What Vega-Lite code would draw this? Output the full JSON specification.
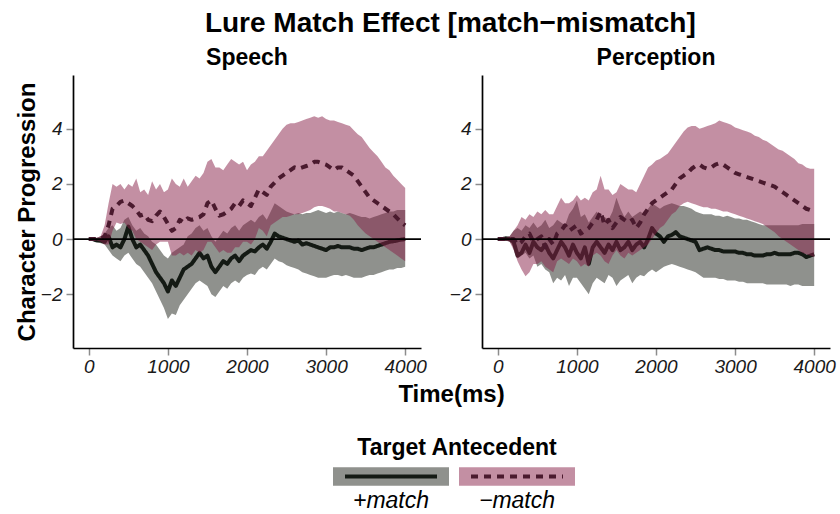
{
"$schema": "https://vega.github.io/schema/vega-lite/v6.json",
"padding": {"left": 15, "top": 10, "right": 5, "bottom": 5},
"background": "white",
"title": {"text": "Lure Match Effect [match−mismatch]", "fontSize": 28, "font": "Liberation Sans", "fontWeight": "bold", "color": "black", "anchor": "middle", "offset": 9, "dx": 25},
"datasets": {"d": [
{"p":"Speech","g":"+match","t":0,"m":0,"lo":-0.05,"hi":0.05},
{"p":"Speech","g":"+match","t":50,"m":0,"lo":-0.05,"hi":0.05},
{"p":"Speech","g":"+match","t":100,"m":-0.05,"lo":-0.1,"hi":0.05},
{"p":"Speech","g":"+match","t":150,"m":-0.05,"lo":-0.15,"hi":0.1},
{"p":"Speech","g":"+match","t":200,"m":-0.1,"lo":-0.2,"hi":0.2},
{"p":"Speech","g":"+match","t":250,"m":0.1,"lo":-0.4,"hi":0.4},
{"p":"Speech","g":"+match","t":300,"m":-0.3,"lo":-0.6,"hi":0.5},
{"p":"Speech","g":"+match","t":350,"m":-0.2,"lo":-0.7,"hi":0.3},
{"p":"Speech","g":"+match","t":400,"m":-0.3,"lo":-0.8,"hi":0.4},
{"p":"Speech","g":"+match","t":450,"m":0,"lo":-0.6,"hi":0.7},
{"p":"Speech","g":"+match","t":500,"m":0.45,"lo":-0.5,"hi":0.8},
{"p":"Speech","g":"+match","t":550,"m":0,"lo":-0.7,"hi":0.5},
{"p":"Speech","g":"+match","t":600,"m":-0.3,"lo":-0.9,"hi":0.3},
{"p":"Speech","g":"+match","t":650,"m":-0.2,"lo":-1.0,"hi":0.4},
{"p":"Speech","g":"+match","t":700,"m":-0.4,"lo":-1.2,"hi":0.2},
{"p":"Speech","g":"+match","t":750,"m":-0.6,"lo":-1.4,"hi":0.1},
{"p":"Speech","g":"+match","t":800,"m":-0.9,"lo":-1.6,"hi":-0.1},
{"p":"Speech","g":"+match","t":850,"m":-1.2,"lo":-1.9,"hi":-0.2},
{"p":"Speech","g":"+match","t":900,"m":-1.4,"lo":-2.2,"hi":-0.4},
{"p":"Speech","g":"+match","t":950,"m":-1.6,"lo":-2.5,"hi":-0.6},
{"p":"Speech","g":"+match","t":1000,"m":-1.9,"lo":-2.9,"hi":-0.7},
{"p":"Speech","g":"+match","t":1050,"m":-1.5,"lo":-2.7,"hi":-0.5},
{"p":"Speech","g":"+match","t":1100,"m":-1.7,"lo":-2.75,"hi":-0.4},
{"p":"Speech","g":"+match","t":1150,"m":-1.4,"lo":-2.4,"hi":-0.3},
{"p":"Speech","g":"+match","t":1200,"m":-1.1,"lo":-2.2,"hi":-0.2},
{"p":"Speech","g":"+match","t":1250,"m":-1.0,"lo":-2.0,"hi":0.1},
{"p":"Speech","g":"+match","t":1300,"m":-0.9,"lo":-1.8,"hi":0.2},
{"p":"Speech","g":"+match","t":1350,"m":-0.7,"lo":-1.6,"hi":0.4},
{"p":"Speech","g":"+match","t":1400,"m":-0.5,"lo":-1.5,"hi":0.5},
{"p":"Speech","g":"+match","t":1450,"m":-0.7,"lo":-1.6,"hi":0.3},
{"p":"Speech","g":"+match","t":1500,"m":-0.6,"lo":-1.7,"hi":0.4},
{"p":"Speech","g":"+match","t":1550,"m":-1.0,"lo":-2.0,"hi":0.1},
{"p":"Speech","g":"+match","t":1600,"m":-1.2,"lo":-2.1,"hi":-0.1},
{"p":"Speech","g":"+match","t":1650,"m":-1.0,"lo":-1.9,"hi":0.1},
{"p":"Speech","g":"+match","t":1700,"m":-0.8,"lo":-1.7,"hi":0.3},
{"p":"Speech","g":"+match","t":1750,"m":-0.9,"lo":-1.8,"hi":0.2},
{"p":"Speech","g":"+match","t":1800,"m":-0.7,"lo":-1.6,"hi":0.4},
{"p":"Speech","g":"+match","t":1850,"m":-0.6,"lo":-1.5,"hi":0.5},
{"p":"Speech","g":"+match","t":1900,"m":-0.8,"lo":-1.6,"hi":0.3},
{"p":"Speech","g":"+match","t":1950,"m":-0.6,"lo":-1.4,"hi":0.5},
{"p":"Speech","g":"+match","t":2000,"m":-0.5,"lo":-1.3,"hi":0.6},
{"p":"Speech","g":"+match","t":2050,"m":-0.4,"lo":-1.25,"hi":0.7},
{"p":"Speech","g":"+match","t":2100,"m":-0.45,"lo":-1.3,"hi":0.6},
{"p":"Speech","g":"+match","t":2150,"m":-0.3,"lo":-1.1,"hi":0.8},
{"p":"Speech","g":"+match","t":2200,"m":-0.2,"lo":-1.0,"hi":0.9},
{"p":"Speech","g":"+match","t":2250,"m":-0.35,"lo":-1.1,"hi":0.7},
{"p":"Speech","g":"+match","t":2300,"m":-0.1,"lo":-0.9,"hi":1.0},
{"p":"Speech","g":"+match","t":2350,"m":0.2,"lo":-0.7,"hi":1.3},
{"p":"Speech","g":"+match","t":2400,"m":0.1,"lo":-0.8,"hi":1.2},
{"p":"Speech","g":"+match","t":2450,"m":0.05,"lo":-0.85,"hi":1.1},
{"p":"Speech","g":"+match","t":2500,"m":0,"lo":-0.95,"hi":1.0},
{"p":"Speech","g":"+match","t":2550,"m":-0.05,"lo":-1.0,"hi":0.95},
{"p":"Speech","g":"+match","t":2600,"m":-0.1,"lo":-1.05,"hi":0.9},
{"p":"Speech","g":"+match","t":2650,"m":-0.05,"lo":-1.1,"hi":0.95},
{"p":"Speech","g":"+match","t":2700,"m":-0.2,"lo":-1.2,"hi":0.9},
{"p":"Speech","g":"+match","t":2750,"m":-0.15,"lo":-1.25,"hi":0.95},
{"p":"Speech","g":"+match","t":2800,"m":-0.2,"lo":-1.3,"hi":0.95},
{"p":"Speech","g":"+match","t":2850,"m":-0.25,"lo":-1.35,"hi":1.0},
{"p":"Speech","g":"+match","t":2900,"m":-0.3,"lo":-1.4,"hi":1.05},
{"p":"Speech","g":"+match","t":2950,"m":-0.35,"lo":-1.4,"hi":1.0},
{"p":"Speech","g":"+match","t":3000,"m":-0.4,"lo":-1.4,"hi":0.95},
{"p":"Speech","g":"+match","t":3050,"m":-0.3,"lo":-1.35,"hi":1.0},
{"p":"Speech","g":"+match","t":3100,"m":-0.3,"lo":-1.3,"hi":0.95},
{"p":"Speech","g":"+match","t":3150,"m":-0.25,"lo":-1.3,"hi":1.0},
{"p":"Speech","g":"+match","t":3200,"m":-0.3,"lo":-1.35,"hi":0.95},
{"p":"Speech","g":"+match","t":3250,"m":-0.3,"lo":-1.3,"hi":0.9},
{"p":"Speech","g":"+match","t":3300,"m":-0.3,"lo":-1.35,"hi":0.95},
{"p":"Speech","g":"+match","t":3350,"m":-0.35,"lo":-1.4,"hi":0.9},
{"p":"Speech","g":"+match","t":3400,"m":-0.35,"lo":-1.4,"hi":0.85},
{"p":"Speech","g":"+match","t":3450,"m":-0.4,"lo":-1.4,"hi":0.8},
{"p":"Speech","g":"+match","t":3500,"m":-0.35,"lo":-1.35,"hi":0.8},
{"p":"Speech","g":"+match","t":3550,"m":-0.3,"lo":-1.3,"hi":0.75},
{"p":"Speech","g":"+match","t":3600,"m":-0.3,"lo":-1.3,"hi":0.8},
{"p":"Speech","g":"+match","t":3650,"m":-0.25,"lo":-1.25,"hi":0.85},
{"p":"Speech","g":"+match","t":3700,"m":-0.2,"lo":-1.2,"hi":0.9},
{"p":"Speech","g":"+match","t":3750,"m":-0.15,"lo":-1.15,"hi":0.95},
{"p":"Speech","g":"+match","t":3800,"m":-0.1,"lo":-1.1,"hi":1.0},
{"p":"Speech","g":"+match","t":3850,"m":-0.08,"lo":-1.1,"hi":1.0},
{"p":"Speech","g":"+match","t":3900,"m":-0.05,"lo":-1.05,"hi":1.05},
{"p":"Speech","g":"+match","t":3950,"m":-0.02,"lo":-1.05,"hi":1.05},
{"p":"Speech","g":"+match","t":4000,"m":0,"lo":-1.0,"hi":1.05},
{"p":"Speech","g":"−match","t":0,"m":0,"lo":0,"hi":0},
{"p":"Speech","g":"−match","t":50,"m":0,"lo":0,"hi":0},
{"p":"Speech","g":"−match","t":100,"m":0,"lo":-0.05,"hi":0.05},
{"p":"Speech","g":"−match","t":150,"m":0,"lo":-0.1,"hi":0.1},
{"p":"Speech","g":"−match","t":200,"m":0.1,"lo":-0.2,"hi":0.5},
{"p":"Speech","g":"−match","t":250,"m":0.5,"lo":-0.2,"hi":1.3},
{"p":"Speech","g":"−match","t":300,"m":1.1,"lo":0.3,"hi":2.0},
{"p":"Speech","g":"−match","t":350,"m":1.2,"lo":0.6,"hi":1.9},
{"p":"Speech","g":"−match","t":400,"m":1.35,"lo":0.55,"hi":2.0},
{"p":"Speech","g":"−match","t":450,"m":1.4,"lo":0.6,"hi":1.8},
{"p":"Speech","g":"−match","t":500,"m":1.3,"lo":0.4,"hi":2.0},
{"p":"Speech","g":"−match","t":550,"m":1.2,"lo":0.3,"hi":1.9},
{"p":"Speech","g":"−match","t":600,"m":1.05,"lo":0.0,"hi":2.2},
{"p":"Speech","g":"−match","t":650,"m":0.85,"lo":-0.1,"hi":1.7},
{"p":"Speech","g":"−match","t":700,"m":0.9,"lo":-0.2,"hi":1.8},
{"p":"Speech","g":"−match","t":750,"m":0.7,"lo":-0.3,"hi":1.6},
{"p":"Speech","g":"−match","t":800,"m":0.65,"lo":-0.4,"hi":2.1},
{"p":"Speech","g":"−match","t":850,"m":0.85,"lo":-0.2,"hi":1.8},
{"p":"Speech","g":"−match","t":900,"m":1.0,"lo":-0.1,"hi":2.0},
{"p":"Speech","g":"−match","t":950,"m":0.8,"lo":-0.1,"hi":1.7},
{"p":"Speech","g":"−match","t":1000,"m":0.55,"lo":-0.1,"hi":1.8},
{"p":"Speech","g":"−match","t":1050,"m":0.3,"lo":-0.6,"hi":2.2},
{"p":"Speech","g":"−match","t":1100,"m":0.4,"lo":-0.6,"hi":2.0},
{"p":"Speech","g":"−match","t":1150,"m":0.7,"lo":-0.5,"hi":1.9},
{"p":"Speech","g":"−match","t":1200,"m":0.6,"lo":-0.6,"hi":2.2},
{"p":"Speech","g":"−match","t":1250,"m":0.75,"lo":-0.5,"hi":1.9},
{"p":"Speech","g":"−match","t":1300,"m":0.7,"lo":-0.6,"hi":2.1},
{"p":"Speech","g":"−match","t":1350,"m":0.75,"lo":-0.4,"hi":2.3},
{"p":"Speech","g":"−match","t":1400,"m":0.8,"lo":-0.5,"hi":2.2},
{"p":"Speech","g":"−match","t":1450,"m":0.9,"lo":-0.4,"hi":2.4},
{"p":"Speech","g":"−match","t":1500,"m":1.3,"lo":-0.1,"hi":2.8},
{"p":"Speech","g":"−match","t":1550,"m":1.4,"lo":-0.1,"hi":2.9},
{"p":"Speech","g":"−match","t":1600,"m":1.1,"lo":-0.3,"hi":2.6},
{"p":"Speech","g":"−match","t":1650,"m":0.85,"lo":-0.5,"hi":2.6},
{"p":"Speech","g":"−match","t":1700,"m":0.9,"lo":-0.4,"hi":2.5},
{"p":"Speech","g":"−match","t":1750,"m":1.0,"lo":-0.5,"hi":2.7},
{"p":"Speech","g":"−match","t":1800,"m":1.1,"lo":-0.5,"hi":2.9},
{"p":"Speech","g":"−match","t":1850,"m":1.3,"lo":-0.3,"hi":2.8},
{"p":"Speech","g":"−match","t":1900,"m":1.2,"lo":-0.3,"hi":2.7},
{"p":"Speech","g":"−match","t":1950,"m":1.4,"lo":-0.1,"hi":2.8},
{"p":"Speech","g":"−match","t":2000,"m":1.3,"lo":-0.1,"hi":2.5},
{"p":"Speech","g":"−match","t":2050,"m":1.2,"lo":-0.2,"hi":2.7},
{"p":"Speech","g":"−match","t":2100,"m":1.5,"lo":0.0,"hi":2.8},
{"p":"Speech","g":"−match","t":2150,"m":1.8,"lo":0.4,"hi":3.0},
{"p":"Speech","g":"−match","t":2200,"m":1.7,"lo":0.3,"hi":3.0},
{"p":"Speech","g":"−match","t":2250,"m":1.6,"lo":0.1,"hi":3.2},
{"p":"Speech","g":"−match","t":2300,"m":1.9,"lo":0.5,"hi":3.4},
{"p":"Speech","g":"−match","t":2350,"m":2.05,"lo":0.6,"hi":3.6},
{"p":"Speech","g":"−match","t":2400,"m":2.2,"lo":0.7,"hi":3.8},
{"p":"Speech","g":"−match","t":2450,"m":2.3,"lo":0.8,"hi":4.0},
{"p":"Speech","g":"−match","t":2500,"m":2.4,"lo":0.8,"hi":4.15},
{"p":"Speech","g":"−match","t":2550,"m":2.5,"lo":0.85,"hi":4.2},
{"p":"Speech","g":"−match","t":2600,"m":2.6,"lo":0.9,"hi":4.2},
{"p":"Speech","g":"−match","t":2650,"m":2.55,"lo":0.9,"hi":4.25},
{"p":"Speech","g":"−match","t":2700,"m":2.6,"lo":0.95,"hi":4.3},
{"p":"Speech","g":"−match","t":2750,"m":2.65,"lo":1.0,"hi":4.35},
{"p":"Speech","g":"−match","t":2800,"m":2.7,"lo":1.05,"hi":4.4},
{"p":"Speech","g":"−match","t":2850,"m":2.8,"lo":1.15,"hi":4.45},
{"p":"Speech","g":"−match","t":2900,"m":2.8,"lo":1.2,"hi":4.4},
{"p":"Speech","g":"−match","t":2950,"m":2.75,"lo":1.2,"hi":4.45},
{"p":"Speech","g":"−match","t":3000,"m":2.7,"lo":1.15,"hi":4.35},
{"p":"Speech","g":"−match","t":3050,"m":2.6,"lo":1.1,"hi":4.3},
{"p":"Speech","g":"−match","t":3100,"m":2.5,"lo":1.0,"hi":4.3},
{"p":"Speech","g":"−match","t":3150,"m":2.6,"lo":1.0,"hi":4.25},
{"p":"Speech","g":"−match","t":3200,"m":2.6,"lo":0.95,"hi":4.2},
{"p":"Speech","g":"−match","t":3250,"m":2.5,"lo":0.9,"hi":4.15},
{"p":"Speech","g":"−match","t":3300,"m":2.4,"lo":0.85,"hi":4.1},
{"p":"Speech","g":"−match","t":3350,"m":2.3,"lo":0.7,"hi":3.95},
{"p":"Speech","g":"−match","t":3400,"m":2.1,"lo":0.5,"hi":3.8},
{"p":"Speech","g":"−match","t":3450,"m":1.9,"lo":0.35,"hi":3.7},
{"p":"Speech","g":"−match","t":3500,"m":1.7,"lo":0.2,"hi":3.5},
{"p":"Speech","g":"−match","t":3550,"m":1.5,"lo":0.1,"hi":3.3},
{"p":"Speech","g":"−match","t":3600,"m":1.4,"lo":0.0,"hi":3.15},
{"p":"Speech","g":"−match","t":3650,"m":1.3,"lo":-0.1,"hi":3.0},
{"p":"Speech","g":"−match","t":3700,"m":1.2,"lo":-0.2,"hi":2.8},
{"p":"Speech","g":"−match","t":3750,"m":1.1,"lo":-0.3,"hi":2.6},
{"p":"Speech","g":"−match","t":3800,"m":1.0,"lo":-0.4,"hi":2.5},
{"p":"Speech","g":"−match","t":3850,"m":0.9,"lo":-0.5,"hi":2.3},
{"p":"Speech","g":"−match","t":3900,"m":0.75,"lo":-0.6,"hi":2.15},
{"p":"Speech","g":"−match","t":3950,"m":0.6,"lo":-0.7,"hi":2.0},
{"p":"Speech","g":"−match","t":4000,"m":0.5,"lo":-0.8,"hi":1.85},
{"p":"Perception","g":"+match","t":0,"m":0,"lo":-0.05,"hi":0.05},
{"p":"Perception","g":"+match","t":50,"m":0,"lo":-0.05,"hi":0.05},
{"p":"Perception","g":"+match","t":100,"m":0.02,"lo":-0.05,"hi":0.1},
{"p":"Perception","g":"+match","t":150,"m":0,"lo":-0.1,"hi":0.1},
{"p":"Perception","g":"+match","t":200,"m":-0.1,"lo":-0.3,"hi":0.3},
{"p":"Perception","g":"+match","t":250,"m":-0.6,"lo":-0.7,"hi":0.4},
{"p":"Perception","g":"+match","t":300,"m":-0.5,"lo":-0.6,"hi":0.3},
{"p":"Perception","g":"+match","t":350,"m":-0.2,"lo":-0.5,"hi":0.5},
{"p":"Perception","g":"+match","t":400,"m":-0.5,"lo":-0.7,"hi":0.4},
{"p":"Perception","g":"+match","t":450,"m":-0.1,"lo":-0.6,"hi":0.6},
{"p":"Perception","g":"+match","t":500,"m":-0.3,"lo":-1.0,"hi":0.4},
{"p":"Perception","g":"+match","t":550,"m":-0.4,"lo":-0.9,"hi":0.5},
{"p":"Perception","g":"+match","t":600,"m":-0.2,"lo":-1.1,"hi":0.7},
{"p":"Perception","g":"+match","t":650,"m":-0.5,"lo":-1.2,"hi":0.4},
{"p":"Perception","g":"+match","t":700,"m":-0.7,"lo":-1.6,"hi":0.5},
{"p":"Perception","g":"+match","t":750,"m":-0.4,"lo":-1.4,"hi":0.7},
{"p":"Perception","g":"+match","t":800,"m":-0.1,"lo":-1.5,"hi":0.6},
{"p":"Perception","g":"+match","t":850,"m":-0.3,"lo":-1.3,"hi":0.5},
{"p":"Perception","g":"+match","t":900,"m":-0.6,"lo":-1.7,"hi":0.9},
{"p":"Perception","g":"+match","t":950,"m":-0.2,"lo":-1.4,"hi":1.1},
{"p":"Perception","g":"+match","t":1000,"m":-0.5,"lo":-1.4,"hi":1.4},
{"p":"Perception","g":"+match","t":1050,"m":-0.7,"lo":-1.6,"hi":0.8},
{"p":"Perception","g":"+match","t":1100,"m":-0.3,"lo":-1.8,"hi":0.9},
{"p":"Perception","g":"+match","t":1150,"m":-0.9,"lo":-2.0,"hi":0.6},
{"p":"Perception","g":"+match","t":1200,"m":-0.3,"lo":-1.6,"hi":0.8},
{"p":"Perception","g":"+match","t":1250,"m":-0.1,"lo":-1.4,"hi":1.0},
{"p":"Perception","g":"+match","t":1300,"m":-0.3,"lo":-1.5,"hi":0.7},
{"p":"Perception","g":"+match","t":1350,"m":-0.5,"lo":-1.6,"hi":0.8},
{"p":"Perception","g":"+match","t":1400,"m":-0.2,"lo":-1.3,"hi":0.7},
{"p":"Perception","g":"+match","t":1450,"m":-0.4,"lo":-1.4,"hi":1.0},
{"p":"Perception","g":"+match","t":1500,"m":-0.1,"lo":-1.7,"hi":1.5},
{"p":"Perception","g":"+match","t":1550,"m":-0.4,"lo":-1.5,"hi":1.1},
{"p":"Perception","g":"+match","t":1600,"m":-0.3,"lo":-1.4,"hi":0.8},
{"p":"Perception","g":"+match","t":1650,"m":-0.1,"lo":-1.3,"hi":1.0},
{"p":"Perception","g":"+match","t":1700,"m":-0.4,"lo":-1.6,"hi":0.8},
{"p":"Perception","g":"+match","t":1750,"m":-0.2,"lo":-1.4,"hi":0.9},
{"p":"Perception","g":"+match","t":1800,"m":-0.1,"lo":-1.3,"hi":1.0},
{"p":"Perception","g":"+match","t":1850,"m":-0.3,"lo":-1.35,"hi":0.9},
{"p":"Perception","g":"+match","t":1900,"m":0,"lo":-1.2,"hi":1.1},
{"p":"Perception","g":"+match","t":1950,"m":0.4,"lo":-1.1,"hi":1.3},
{"p":"Perception","g":"+match","t":2000,"m":0.2,"lo":-1.2,"hi":1.2},
{"p":"Perception","g":"+match","t":2050,"m":0.1,"lo":-1.1,"hi":1.1},
{"p":"Perception","g":"+match","t":2100,"m":-0.1,"lo":-1.0,"hi":1.2},
{"p":"Perception","g":"+match","t":2150,"m":0.1,"lo":-0.95,"hi":1.25},
{"p":"Perception","g":"+match","t":2200,"m":0.15,"lo":-0.9,"hi":1.3},
{"p":"Perception","g":"+match","t":2250,"m":0.25,"lo":-0.95,"hi":1.25},
{"p":"Perception","g":"+match","t":2300,"m":0.1,"lo":-1.0,"hi":1.2},
{"p":"Perception","g":"+match","t":2350,"m":0.05,"lo":-1.05,"hi":1.2},
{"p":"Perception","g":"+match","t":2400,"m":0,"lo":-1.1,"hi":1.15},
{"p":"Perception","g":"+match","t":2450,"m":-0.05,"lo":-1.15,"hi":1.1},
{"p":"Perception","g":"+match","t":2500,"m":-0.1,"lo":-1.2,"hi":1.0},
{"p":"Perception","g":"+match","t":2550,"m":-0.4,"lo":-1.3,"hi":0.95},
{"p":"Perception","g":"+match","t":2600,"m":-0.35,"lo":-1.4,"hi":0.9},
{"p":"Perception","g":"+match","t":2650,"m":-0.3,"lo":-1.4,"hi":0.9},
{"p":"Perception","g":"+match","t":2700,"m":-0.35,"lo":-1.4,"hi":0.9},
{"p":"Perception","g":"+match","t":2750,"m":-0.4,"lo":-1.4,"hi":0.85},
{"p":"Perception","g":"+match","t":2800,"m":-0.4,"lo":-1.45,"hi":0.85},
{"p":"Perception","g":"+match","t":2850,"m":-0.45,"lo":-1.45,"hi":0.8},
{"p":"Perception","g":"+match","t":2900,"m":-0.45,"lo":-1.5,"hi":0.85},
{"p":"Perception","g":"+match","t":2950,"m":-0.45,"lo":-1.5,"hi":0.8},
{"p":"Perception","g":"+match","t":3000,"m":-0.45,"lo":-1.5,"hi":0.75},
{"p":"Perception","g":"+match","t":3050,"m":-0.5,"lo":-1.55,"hi":0.75},
{"p":"Perception","g":"+match","t":3100,"m":-0.5,"lo":-1.55,"hi":0.7},
{"p":"Perception","g":"+match","t":3150,"m":-0.55,"lo":-1.6,"hi":0.7},
{"p":"Perception","g":"+match","t":3200,"m":-0.55,"lo":-1.6,"hi":0.65},
{"p":"Perception","g":"+match","t":3250,"m":-0.6,"lo":-1.6,"hi":0.6},
{"p":"Perception","g":"+match","t":3300,"m":-0.6,"lo":-1.6,"hi":0.55},
{"p":"Perception","g":"+match","t":3350,"m":-0.6,"lo":-1.6,"hi":0.5},
{"p":"Perception","g":"+match","t":3400,"m":-0.55,"lo":-1.65,"hi":0.5},
{"p":"Perception","g":"+match","t":3450,"m":-0.55,"lo":-1.65,"hi":0.5},
{"p":"Perception","g":"+match","t":3500,"m":-0.5,"lo":-1.65,"hi":0.5},
{"p":"Perception","g":"+match","t":3550,"m":-0.55,"lo":-1.65,"hi":0.5},
{"p":"Perception","g":"+match","t":3600,"m":-0.55,"lo":-1.65,"hi":0.5},
{"p":"Perception","g":"+match","t":3650,"m":-0.55,"lo":-1.65,"hi":0.5},
{"p":"Perception","g":"+match","t":3700,"m":-0.55,"lo":-1.7,"hi":0.5},
{"p":"Perception","g":"+match","t":3750,"m":-0.5,"lo":-1.65,"hi":0.5},
{"p":"Perception","g":"+match","t":3800,"m":-0.5,"lo":-1.65,"hi":0.5},
{"p":"Perception","g":"+match","t":3850,"m":-0.55,"lo":-1.7,"hi":0.55},
{"p":"Perception","g":"+match","t":3900,"m":-0.65,"lo":-1.7,"hi":0.55},
{"p":"Perception","g":"+match","t":3950,"m":-0.6,"lo":-1.7,"hi":0.55},
{"p":"Perception","g":"+match","t":4000,"m":-0.55,"lo":-1.7,"hi":0.55},
{"p":"Perception","g":"−match","t":0,"m":0,"lo":0,"hi":0},
{"p":"Perception","g":"−match","t":50,"m":0,"lo":0,"hi":0},
{"p":"Perception","g":"−match","t":100,"m":0,"lo":-0.05,"hi":0.05},
{"p":"Perception","g":"−match","t":150,"m":0,"lo":-0.1,"hi":0.1},
{"p":"Perception","g":"−match","t":200,"m":0,"lo":-0.4,"hi":0.3},
{"p":"Perception","g":"−match","t":250,"m":-0.2,"lo":-0.8,"hi":0.5},
{"p":"Perception","g":"−match","t":300,"m":-0.1,"lo":-1.1,"hi":0.8},
{"p":"Perception","g":"−match","t":350,"m":0.1,"lo":-1.35,"hi":0.7},
{"p":"Perception","g":"−match","t":400,"m":0.2,"lo":-1.2,"hi":0.9},
{"p":"Perception","g":"−match","t":450,"m":-0.1,"lo":-0.9,"hi":0.8},
{"p":"Perception","g":"−match","t":500,"m":0,"lo":-0.9,"hi":1.0},
{"p":"Perception","g":"−match","t":550,"m":0.1,"lo":-0.8,"hi":0.9},
{"p":"Perception","g":"−match","t":600,"m":-0.3,"lo":-1.0,"hi":1.05},
{"p":"Perception","g":"−match","t":650,"m":0,"lo":-1.1,"hi":0.9},
{"p":"Perception","g":"−match","t":700,"m":-0.2,"lo":-1.2,"hi":0.9},
{"p":"Perception","g":"−match","t":750,"m":0.2,"lo":-0.8,"hi":1.2},
{"p":"Perception","g":"−match","t":800,"m":0.3,"lo":-0.7,"hi":1.5},
{"p":"Perception","g":"−match","t":850,"m":0.5,"lo":-0.8,"hi":1.3},
{"p":"Perception","g":"−match","t":900,"m":0.3,"lo":-0.9,"hi":1.3},
{"p":"Perception","g":"−match","t":950,"m":0.4,"lo":-0.7,"hi":1.4},
{"p":"Perception","g":"−match","t":1000,"m":0.5,"lo":-0.8,"hi":1.6},
{"p":"Perception","g":"−match","t":1050,"m":0.2,"lo":-1.0,"hi":1.4},
{"p":"Perception","g":"−match","t":1100,"m":0.3,"lo":-0.9,"hi":1.5},
{"p":"Perception","g":"−match","t":1150,"m":0.4,"lo":-1.0,"hi":1.4},
{"p":"Perception","g":"−match","t":1200,"m":0.6,"lo":-0.6,"hi":1.7},
{"p":"Perception","g":"−match","t":1250,"m":0.7,"lo":-0.5,"hi":1.8},
{"p":"Perception","g":"−match","t":1300,"m":1.0,"lo":-0.6,"hi":2.3},
{"p":"Perception","g":"−match","t":1350,"m":0.5,"lo":-0.8,"hi":1.8},
{"p":"Perception","g":"−match","t":1400,"m":0.7,"lo":-0.9,"hi":1.8},
{"p":"Perception","g":"−match","t":1450,"m":0.4,"lo":-0.6,"hi":1.6},
{"p":"Perception","g":"−match","t":1500,"m":0.6,"lo":-0.4,"hi":1.7},
{"p":"Perception","g":"−match","t":1550,"m":0.8,"lo":-0.6,"hi":2.0},
{"p":"Perception","g":"−match","t":1600,"m":0.7,"lo":-0.7,"hi":1.9},
{"p":"Perception","g":"−match","t":1650,"m":0.6,"lo":-0.5,"hi":1.8},
{"p":"Perception","g":"−match","t":1700,"m":0.7,"lo":-0.6,"hi":1.8},
{"p":"Perception","g":"−match","t":1750,"m":0.4,"lo":-0.5,"hi":1.7},
{"p":"Perception","g":"−match","t":1800,"m":0.6,"lo":-0.4,"hi":2.0},
{"p":"Perception","g":"−match","t":1850,"m":0.9,"lo":-0.3,"hi":2.3},
{"p":"Perception","g":"−match","t":1900,"m":1.1,"lo":-0.2,"hi":2.6},
{"p":"Perception","g":"−match","t":1950,"m":1.3,"lo":0.0,"hi":2.7},
{"p":"Perception","g":"−match","t":2000,"m":1.4,"lo":0.2,"hi":2.85},
{"p":"Perception","g":"−match","t":2050,"m":1.5,"lo":0.4,"hi":2.9},
{"p":"Perception","g":"−match","t":2100,"m":1.6,"lo":0.5,"hi":3.0},
{"p":"Perception","g":"−match","t":2150,"m":1.7,"lo":0.7,"hi":3.1},
{"p":"Perception","g":"−match","t":2200,"m":1.8,"lo":0.9,"hi":3.3},
{"p":"Perception","g":"−match","t":2250,"m":2.0,"lo":1.0,"hi":3.5},
{"p":"Perception","g":"−match","t":2300,"m":2.2,"lo":1.2,"hi":3.7},
{"p":"Perception","g":"−match","t":2350,"m":2.3,"lo":1.3,"hi":3.9},
{"p":"Perception","g":"−match","t":2400,"m":2.4,"lo":1.35,"hi":4.05},
{"p":"Perception","g":"−match","t":2450,"m":2.55,"lo":1.3,"hi":4.1},
{"p":"Perception","g":"−match","t":2500,"m":2.65,"lo":1.25,"hi":4.1},
{"p":"Perception","g":"−match","t":2550,"m":2.7,"lo":1.2,"hi":4.0},
{"p":"Perception","g":"−match","t":2600,"m":2.6,"lo":1.15,"hi":4.05},
{"p":"Perception","g":"−match","t":2650,"m":2.55,"lo":1.15,"hi":4.1},
{"p":"Perception","g":"−match","t":2700,"m":2.6,"lo":1.1,"hi":4.15},
{"p":"Perception","g":"−match","t":2750,"m":2.7,"lo":1.1,"hi":4.2},
{"p":"Perception","g":"−match","t":2800,"m":2.75,"lo":1.05,"hi":4.3},
{"p":"Perception","g":"−match","t":2850,"m":2.7,"lo":1.0,"hi":4.25},
{"p":"Perception","g":"−match","t":2900,"m":2.6,"lo":1.0,"hi":4.2},
{"p":"Perception","g":"−match","t":2950,"m":2.5,"lo":0.95,"hi":4.15},
{"p":"Perception","g":"−match","t":3000,"m":2.4,"lo":0.9,"hi":4.05},
{"p":"Perception","g":"−match","t":3050,"m":2.35,"lo":0.85,"hi":4.0},
{"p":"Perception","g":"−match","t":3100,"m":2.3,"lo":0.8,"hi":3.95},
{"p":"Perception","g":"−match","t":3150,"m":2.25,"lo":0.75,"hi":3.9},
{"p":"Perception","g":"−match","t":3200,"m":2.2,"lo":0.7,"hi":3.85},
{"p":"Perception","g":"−match","t":3250,"m":2.15,"lo":0.65,"hi":3.75},
{"p":"Perception","g":"−match","t":3300,"m":2.1,"lo":0.6,"hi":3.7},
{"p":"Perception","g":"−match","t":3350,"m":2.05,"lo":0.55,"hi":3.6},
{"p":"Perception","g":"−match","t":3400,"m":2.0,"lo":0.45,"hi":3.55},
{"p":"Perception","g":"−match","t":3450,"m":1.95,"lo":0.35,"hi":3.45},
{"p":"Perception","g":"−match","t":3500,"m":1.9,"lo":0.25,"hi":3.35},
{"p":"Perception","g":"−match","t":3550,"m":1.8,"lo":0.1,"hi":3.25},
{"p":"Perception","g":"−match","t":3600,"m":1.7,"lo":0.0,"hi":3.2},
{"p":"Perception","g":"−match","t":3650,"m":1.6,"lo":-0.1,"hi":3.1},
{"p":"Perception","g":"−match","t":3700,"m":1.5,"lo":-0.2,"hi":3.0},
{"p":"Perception","g":"−match","t":3750,"m":1.4,"lo":-0.3,"hi":2.9},
{"p":"Perception","g":"−match","t":3800,"m":1.3,"lo":-0.4,"hi":2.75},
{"p":"Perception","g":"−match","t":3850,"m":1.2,"lo":-0.5,"hi":2.7},
{"p":"Perception","g":"−match","t":3900,"m":1.1,"lo":-0.55,"hi":2.6},
{"p":"Perception","g":"−match","t":3950,"m":1.05,"lo":-0.6,"hi":2.55},
{"p":"Perception","g":"−match","t":4000,"m":1.0,"lo":-0.65,"hi":2.55}
],
"zero": [{"ref": 0}]
},
"data": {"name": "d"},
"bounds": "flush",
"spacing": 61,
"hconcat": [
{
"width": 348, "height": 273,
"title": {"text": "Speech", "fontSize": 23, "font": "Liberation Sans", "fontWeight": "bold", "color": "black", "anchor": "middle", "offset": 5},
"layer": [
{"transform": [{"filter": "datum.p === 'Speech' && datum.g === '+match'"}],
 "mark": {"type": "area", "opacity": 1},
 "encoding": {
  "x": {"field": "t", "type": "quantitative", "scale": {"domain": [-200, 4200], "nice": false, "zero": false}, "axis": {"title": "Time(ms)", "titleX": 378, "titleAlign": "center", "values": [0, 1000, 2000, 3000, 4000], "format": "d", "labelFlush": false}},
  "y": {"field": "lo", "type": "quantitative", "scale": {"domain": [-3.95, 5.95], "nice": false, "zero": false}, "axis": {"title": "Character Progression", "values": [-2, 0, 2, 4], "format": "d", "labelFlush": false}},
  "y2": {"field": "hi"},
  "fill": {"field": "g", "type": "nominal", "scale": {"domain": ["+match", "−match"], "range": ["#8f918d", "rgba(135,31,71,0.5)"]}, "legend": {"title": "Target Antecedent", "symbolType": "M-1,-0.5836H1V-0.2612H-1Z", "symbolStrokeColor": "transparent", "labelColor": "black", "titleColor": "black", "zindex": 0}}
 }},
{"transform": [{"filter": "datum.p === 'Speech' && datum.g === '+match'"}],
 "mark": {"type": "line", "strokeWidth": 4, "strokeJoin": "round"},
 "encoding": {
  "x": {"field": "t", "type": "quantitative", "scale": {"domain": [-200, 4200], "nice": false, "zero": false}, "axis": {"title": "Time(ms)", "titleX": 378, "titleAlign": "center", "values": [0, 1000, 2000, 3000, 4000], "format": "d", "labelFlush": false}},
  "y": {"field": "m", "type": "quantitative", "scale": {"domain": [-3.95, 5.95], "nice": false, "zero": false}, "axis": {"title": "Character Progression", "values": [-2, 0, 2, 4], "format": "d", "labelFlush": false}},
  "stroke": {"field": "g", "type": "nominal", "scale": {"range": ["#141a14", "#4a1a2e"]}, "legend": {"title": "Target Antecedent", "symbolType": "M-1,-0.5836M1,-0.2612M-0.793,-0.4224H0.793", "labelColor": "transparent", "titleColor": "transparent", "symbolFillColor": "transparent", "zindex": 1}},
  "strokeDash": {"field": "g", "type": "nominal", "scale": {"range": [[1, 0], [7, 6]]}, "legend": {"title": "Target Antecedent", "symbolType": "M-1,-0.5836M1,-0.2612M-0.793,-0.4224H0.793", "labelColor": "transparent", "titleColor": "transparent", "symbolFillColor": "transparent", "zindex": 1}}
 }},
{"transform": [{"filter": "datum.p === 'Speech' && datum.g === '−match'"}],
 "mark": {"type": "area", "opacity": 1},
 "encoding": {
  "x": {"field": "t", "type": "quantitative", "scale": {"domain": [-200, 4200], "nice": false, "zero": false}, "axis": {"title": "Time(ms)", "titleX": 378, "titleAlign": "center", "values": [0, 1000, 2000, 3000, 4000], "format": "d", "labelFlush": false}},
  "y": {"field": "lo", "type": "quantitative", "scale": {"domain": [-3.95, 5.95], "nice": false, "zero": false}, "axis": {"title": "Character Progression", "values": [-2, 0, 2, 4], "format": "d", "labelFlush": false}},
  "y2": {"field": "hi"},
  "fill": {"field": "g", "type": "nominal", "scale": {"domain": ["+match", "−match"], "range": ["#8f918d", "rgba(135,31,71,0.5)"]}, "legend": {"title": "Target Antecedent", "symbolType": "M-1,-0.5836H1V-0.2612H-1Z", "symbolStrokeColor": "transparent", "labelColor": "black", "titleColor": "black", "zindex": 0}}
 }},
{"transform": [{"filter": "datum.p === 'Speech' && datum.g === '−match'"}],
 "mark": {"type": "line", "strokeWidth": 4, "strokeJoin": "round"},
 "encoding": {
  "x": {"field": "t", "type": "quantitative", "scale": {"domain": [-200, 4200], "nice": false, "zero": false}, "axis": {"title": "Time(ms)", "titleX": 378, "titleAlign": "center", "values": [0, 1000, 2000, 3000, 4000], "format": "d", "labelFlush": false}},
  "y": {"field": "m", "type": "quantitative", "scale": {"domain": [-3.95, 5.95], "nice": false, "zero": false}, "axis": {"title": "Character Progression", "values": [-2, 0, 2, 4], "format": "d", "labelFlush": false}},
  "stroke": {"field": "g", "type": "nominal", "scale": {"range": ["#141a14", "#4a1a2e"]}, "legend": {"title": "Target Antecedent", "symbolType": "M-1,-0.5836M1,-0.2612M-0.793,-0.4224H0.793", "labelColor": "transparent", "titleColor": "transparent", "symbolFillColor": "transparent", "zindex": 1}},
  "strokeDash": {"field": "g", "type": "nominal", "scale": {"range": [[1, 0], [7, 6]]}, "legend": {"title": "Target Antecedent", "symbolType": "M-1,-0.5836M1,-0.2612M-0.793,-0.4224H0.793", "labelColor": "transparent", "titleColor": "transparent", "symbolFillColor": "transparent", "zindex": 1}}
 }},
{"data": {"name": "zero"},
 "mark": {"type": "rule", "color": "black", "strokeWidth": 1.8},
 "encoding": {"y": {"field": "ref", "type": "quantitative", "scale": {"domain": [-3.95, 5.95], "nice": false, "zero": false}, "axis": {"title": "Character Progression", "values": [-2, 0, 2, 4], "format": "d", "labelFlush": false}}}}
]
},
{
"width": 348, "height": 273,
"title": {"text": "Perception", "fontSize": 23, "font": "Liberation Sans", "fontWeight": "bold", "color": "black", "anchor": "middle", "offset": 5},
"layer": [
{"transform": [{"filter": "datum.p === 'Perception' && datum.g === '+match'"}],
 "mark": {"type": "area", "opacity": 1},
 "encoding": {
  "x": {"field": "t", "type": "quantitative", "scale": {"domain": [-200, 4200], "nice": false, "zero": false}, "axis": {"title": null, "values": [0, 1000, 2000, 3000, 4000], "format": "d", "labelFlush": false}},
  "y": {"field": "lo", "type": "quantitative", "scale": {"domain": [-3.95, 5.95], "nice": false, "zero": false}, "axis": {"title": null, "values": [-2, 0, 2, 4], "format": "d", "labelFlush": false}},
  "y2": {"field": "hi"},
  "fill": {"field": "g", "type": "nominal", "scale": {"domain": ["+match", "−match"], "range": ["#8f918d", "rgba(135,31,71,0.5)"]}, "legend": {"title": "Target Antecedent", "symbolType": "M-1,-0.5836H1V-0.2612H-1Z", "symbolStrokeColor": "transparent", "labelColor": "black", "titleColor": "black", "zindex": 0}}
 }},
{"transform": [{"filter": "datum.p === 'Perception' && datum.g === '+match'"}],
 "mark": {"type": "line", "strokeWidth": 4, "strokeJoin": "round"},
 "encoding": {
  "x": {"field": "t", "type": "quantitative", "scale": {"domain": [-200, 4200], "nice": false, "zero": false}, "axis": {"title": null, "values": [0, 1000, 2000, 3000, 4000], "format": "d", "labelFlush": false}},
  "y": {"field": "m", "type": "quantitative", "scale": {"domain": [-3.95, 5.95], "nice": false, "zero": false}, "axis": {"title": null, "values": [-2, 0, 2, 4], "format": "d", "labelFlush": false}},
  "stroke": {"field": "g", "type": "nominal", "scale": {"range": ["#141a14", "#4a1a2e"]}, "legend": {"title": "Target Antecedent", "symbolType": "M-1,-0.5836M1,-0.2612M-0.793,-0.4224H0.793", "labelColor": "transparent", "titleColor": "transparent", "symbolFillColor": "transparent", "zindex": 1}},
  "strokeDash": {"field": "g", "type": "nominal", "scale": {"range": [[1, 0], [7, 6]]}, "legend": {"title": "Target Antecedent", "symbolType": "M-1,-0.5836M1,-0.2612M-0.793,-0.4224H0.793", "labelColor": "transparent", "titleColor": "transparent", "symbolFillColor": "transparent", "zindex": 1}}
 }},
{"transform": [{"filter": "datum.p === 'Perception' && datum.g === '−match'"}],
 "mark": {"type": "area", "opacity": 1},
 "encoding": {
  "x": {"field": "t", "type": "quantitative", "scale": {"domain": [-200, 4200], "nice": false, "zero": false}, "axis": {"title": null, "values": [0, 1000, 2000, 3000, 4000], "format": "d", "labelFlush": false}},
  "y": {"field": "lo", "type": "quantitative", "scale": {"domain": [-3.95, 5.95], "nice": false, "zero": false}, "axis": {"title": null, "values": [-2, 0, 2, 4], "format": "d", "labelFlush": false}},
  "y2": {"field": "hi"},
  "fill": {"field": "g", "type": "nominal", "scale": {"domain": ["+match", "−match"], "range": ["#8f918d", "rgba(135,31,71,0.5)"]}, "legend": {"title": "Target Antecedent", "symbolType": "M-1,-0.5836H1V-0.2612H-1Z", "symbolStrokeColor": "transparent", "labelColor": "black", "titleColor": "black", "zindex": 0}}
 }},
{"transform": [{"filter": "datum.p === 'Perception' && datum.g === '−match'"}],
 "mark": {"type": "line", "strokeWidth": 4, "strokeJoin": "round"},
 "encoding": {
  "x": {"field": "t", "type": "quantitative", "scale": {"domain": [-200, 4200], "nice": false, "zero": false}, "axis": {"title": null, "values": [0, 1000, 2000, 3000, 4000], "format": "d", "labelFlush": false}},
  "y": {"field": "m", "type": "quantitative", "scale": {"domain": [-3.95, 5.95], "nice": false, "zero": false}, "axis": {"title": null, "values": [-2, 0, 2, 4], "format": "d", "labelFlush": false}},
  "stroke": {"field": "g", "type": "nominal", "scale": {"range": ["#141a14", "#4a1a2e"]}, "legend": {"title": "Target Antecedent", "symbolType": "M-1,-0.5836M1,-0.2612M-0.793,-0.4224H0.793", "labelColor": "transparent", "titleColor": "transparent", "symbolFillColor": "transparent", "zindex": 1}},
  "strokeDash": {"field": "g", "type": "nominal", "scale": {"range": [[1, 0], [7, 6]]}, "legend": {"title": "Target Antecedent", "symbolType": "M-1,-0.5836M1,-0.2612M-0.793,-0.4224H0.793", "labelColor": "transparent", "titleColor": "transparent", "symbolFillColor": "transparent", "zindex": 1}}
 }},
{"data": {"name": "zero"},
 "mark": {"type": "rule", "color": "black", "strokeWidth": 1.8},
 "encoding": {"y": {"field": "ref", "type": "quantitative", "scale": {"domain": [-3.95, 5.95], "nice": false, "zero": false}, "axis": {"title": null, "values": [-2, 0, 2, 4], "format": "d", "labelFlush": false}}}}
]
}
],
"config": {
 "view": {"stroke": null},
 "axis": {"domainColor": "black", "domainWidth": 1.7, "tickColor": "#8c8c8c", "tickSize": 7, "tickWidth": 1.5, "labelFont": "Liberation Sans", "labelFontSize": 19, "labelFontStyle": "italic", "labelColor": "#1a1a1a", "titleFont": "Liberation Sans", "titleFontSize": 24, "titleFontWeight": "bold", "titleColor": "black", "grid": false},
 "axisX": {"labelPadding": 2, "titlePadding": 6},
 "axisY": {"labelPadding": 4, "titlePadding": 1},
 "legend": {"orient": "none", "legendX": 258, "legendY": 362, "direction": "horizontal", "padding": 0, "symbolSize": 13456, "symbolStrokeWidth": 4, "labelAlign": "center", "labelOffset": -60, "labelFont": "Liberation Sans", "labelFontSize": 23, "labelFontStyle": "italic", "labelLimit": 200, "titleFont": "Liberation Sans", "titleFontSize": 23, "titleFontWeight": "bold", "titleAnchor": "middle", "titleLimit": 400, "titlePadding": -19, "columnPadding": -11, "symbolOpacity": 1}
}
}
